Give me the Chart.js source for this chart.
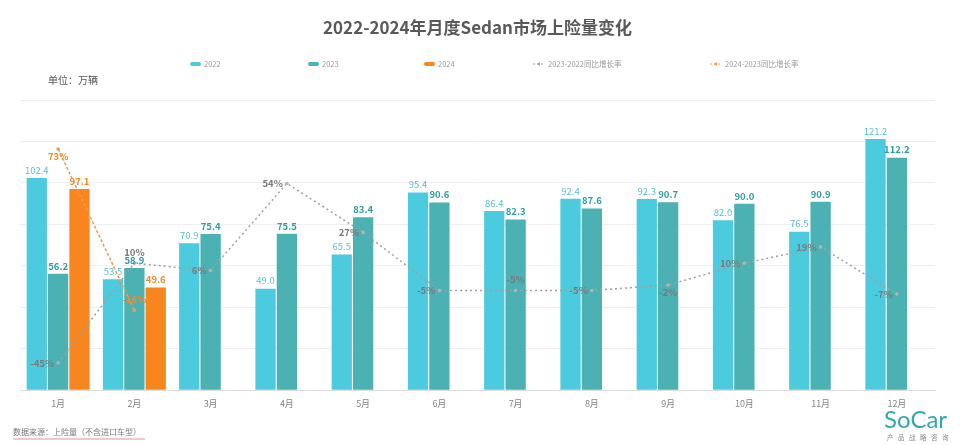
<!DOCTYPE html>
<html><head><meta charset="utf-8">
<script src="https://cdn.jsdelivr.net/npm/chart.js@4"></script>
<style>html,body{margin:0;padding:0;background:#fff;}#wrap{width:960px;height:445px;}</style>
</head><body><div id="wrap"><canvas id="c" width="960" height="445"></canvas></div>
<script>
const months = ['1月','2月','3月','4月','5月','6月','7月','8月','9月','10月','11月','12月'];
const sales2022 = [102.4,53.5,70.9,49.0,65.5,95.4,86.4,92.4,92.3,82.0,76.5,121.2];
const sales2023 = [56.2,58.9,75.4,75.5,83.4,90.6,82.3,87.6,90.7,90.0,90.9,112.2];
const sales2024 = [97.1,49.6,null,null,null,null,null,null,null,null,null,null];
const growth2023 = [-45,10,6,54,27,-5,-5,-5,-2,10,19,-7];
const growth2024 = [73,-16,null,null,null,null,null,null,null,null,null,null];
const legendNames = ['2022','2023','2024','2023-2022同比增长率','2024-2023同比增长率'];

// label placement (style config)
const growth2023Pos = ['left','top','left','left','left','left','top','left','bottom','left','left','left'];
const growth2024Pos = ['bottom','top'];

const FONT = "'Noto Sans CJK SC', 'Open Sans', sans-serif";
const C22 = '#4ccbdf', C23 = '#4bb1b3', C24 = '#f7861f', CG = '#a0a0a0';

const labelPlugin = {
  id: 'valueLabels',
  afterDatasetsDraw(chart) {
    const ctx = chart.ctx;
    chart.data.datasets.forEach((ds, i) => {
      const meta = chart.getDatasetMeta(i);
      if (meta.hidden) return;
      meta.data.forEach((el, j) => {
        const v = ds.data[j];
        if (v == null) return;
        ctx.save();
        ctx.fillStyle = ds.labelColor;
        ctx.font = (ds.labelWeight || 'normal') + ' 9.5px ' + FONT;
        if (ds.type === 'bar') {
          ctx.textAlign = 'center';
          ctx.textBaseline = 'bottom';
          ctx.fillText(v.toFixed(1), el.x, el.y - 3);
        } else {
          const pos = ds.labelPos[j] || 'left';
          const t = v + '%';
          if (pos === 'left') {
            ctx.textAlign = 'right'; ctx.textBaseline = 'middle';
            ctx.fillText(t, el.x - 4, el.y);
          } else if (pos === 'top') {
            ctx.textAlign = 'center'; ctx.textBaseline = 'bottom';
            ctx.fillText(t, el.x, el.y - 6);
          } else {
            ctx.textAlign = 'center'; ctx.textBaseline = 'top';
            ctx.fillText(t, el.x, el.y + 3);
          }
        }
        ctx.restore();
      });
    });
  }
};

const legendX = [190, 308, 424, 533, 710];
const decorPlugin = {
  id: 'decor',
  afterDraw(chart) {
    const ctx = chart.ctx;
    ctx.save();
    // legend
    const y = 64;
    chart.data.datasets.forEach((ds, i) => {
      const x = legendX[i];
      if (ds.type === 'bar') {
        ctx.fillStyle = ds.backgroundColor;
        ctx.beginPath();
        ctx.roundRect(x, y - 2, 11, 4, 2);
        ctx.fill();
      } else {
        ctx.strokeStyle = ds.borderColor;
        ctx.lineWidth = 1;
        ctx.setLineDash([2, 2]);
        ctx.beginPath(); ctx.moveTo(x, y); ctx.lineTo(x + 12, y); ctx.stroke();
        ctx.setLineDash([]);
        ctx.fillStyle = ds.borderColor;
        ctx.beginPath(); ctx.moveTo(x + 4, y); ctx.lineTo(x + 7, y - 2); ctx.lineTo(x + 7, y + 2); ctx.closePath(); ctx.fill();
      }
      ctx.fillStyle = '#9a9a9a';
      ctx.font = '7.5px ' + FONT;
      ctx.textAlign = 'left';
      ctx.textBaseline = 'middle';
      ctx.fillText(legendNames[i], x + (ds.type === 'bar' ? 14 : 15), y);
    });
    // unit
    ctx.fillStyle = '#555';
    ctx.font = '10px ' + FONT;
    ctx.textBaseline = 'middle';
    ctx.fillText('单位：万辆', 48, 80);
    // footer
    ctx.fillStyle = '#777';
    ctx.font = '8px ' + FONT;
    ctx.fillText('数据来源：上险量（不含进口车型）', 13, 432);
    ctx.strokeStyle = 'rgba(220,60,60,0.7)';
    ctx.lineWidth = 0.8;
    ctx.beginPath();
    for (let xx = 13; xx <= 145; xx += 2) {
      const yy = 438 + ((xx / 2) % 2 === 0 ? 0 : 1);
      if (xx === 13) ctx.moveTo(xx, yy); else ctx.lineTo(xx, yy);
    }
    ctx.stroke();
    // logo
    ctx.fillStyle = '#34a9ad';
    ctx.font = '24px Lato, ' + FONT;
    ctx.textAlign = 'left';
    ctx.fillText('SoCar', 884, 420);
    ctx.fillStyle = '#8a8a8a';
    ctx.font = '6.5px ' + FONT;
    const logoSub = '产品战略咨询';
    for (let k = 0; k < logoSub.length; k++) ctx.fillText(logoSub[k], 887 + k * 11, 438);
    ctx.restore();
  }
};

new Chart(document.getElementById('c'), {
  data: {
    labels: months,
    datasets: [
      { type: 'bar', label: '2022', data: sales2022, backgroundColor: C22, yAxisID: 'y', order: 2, labelColor: '#5cbfcf', labelWeight: 'normal', barPercentage: 0.95, categoryPercentage: 0.84 },
      { type: 'bar', label: '2023', data: sales2023, backgroundColor: C23, yAxisID: 'y', order: 2, labelColor: '#2f9ea1', labelWeight: 'bold', barPercentage: 0.95, categoryPercentage: 0.84 },
      { type: 'bar', label: '2024', data: sales2024, backgroundColor: C24, yAxisID: 'y', order: 2, labelColor: '#f08a2c', labelWeight: 'bold', barPercentage: 0.95, categoryPercentage: 0.84 },
      { type: 'line', label: '2023-2022同比增长率', data: growth2023, yAxisID: 'y1', order: 0, borderColor: CG, borderWidth: 1.5, borderDash: [2, 3], pointRadius: 1.8, pointBackgroundColor: '#b5b5b5', pointBorderWidth: 0, fill: false, tension: 0, labelColor: '#7a7a7a', labelWeight: 'bold', labelPos: growth2023Pos },
      { type: 'line', label: '2024-2023同比增长率', data: growth2024, yAxisID: 'y1', order: 0, borderColor: '#f39a4a', borderWidth: 1.5, borderDash: [3, 2], pointRadius: 1.8, pointBackgroundColor: '#f39a4a', pointBorderWidth: 0, fill: false, tension: 0, labelColor: '#f08a2c', labelWeight: 'bold', labelPos: growth2024Pos, spanGaps: false }
    ]
  },
  options: {
    responsive: false,
    animation: false,
    devicePixelRatio: 1,
    layout: { padding: { left: 20, right: 25, top: 0, bottom: 28 } },
    plugins: {
      legend: { display: false },
      tooltip: { enabled: false },
      title: {
        display: true,
        text: '2022-2024年月度Sedan市场上险量变化',
        color: '#595959',
        font: { family: FONT, size: 17, weight: 'bold' },
        padding: { top: 17, bottom: 62.6 }
      }
    },
    scales: {
      x: {
        grid: { display: false, drawTicks: false },
        border: { display: true, color: '#dcdcdc' },
        ticks: { color: '#858585', font: { family: FONT, size: 9 }, padding: 8 }
      },
      y: {
        display: true,
        min: 0, max: 140,
        ticks: { display: false, stepSize: 20 },
        grid: { color: '#eeeeee', drawTicks: false },
        border: { display: false }
      },
      y1: {
        display: true,
        min: -60, max: 100,
        position: 'right',
        ticks: { display: false },
        grid: { display: false, drawTicks: false },
        border: { display: false }
      }
    }
  },
  plugins: [labelPlugin, decorPlugin]
});
</script>
</body></html>
